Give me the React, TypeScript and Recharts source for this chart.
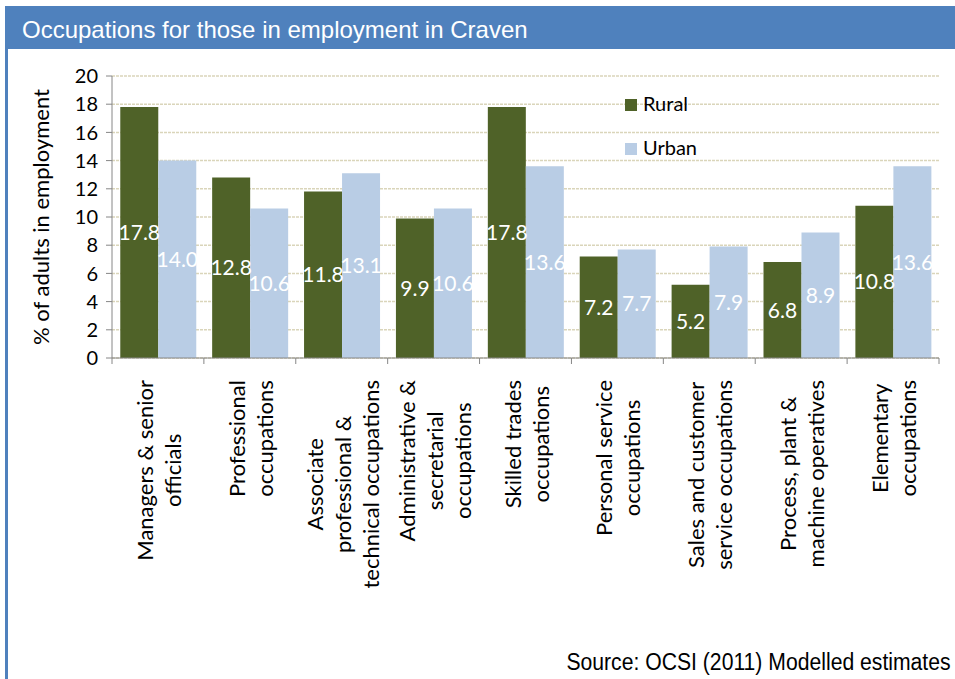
import React from 'react';
import { Bar, BarChart, CartesianGrid, LabelList, Legend, XAxis, YAxis } from 'recharts';

const categories = [
  'Managers & senior\nofficials',
  'Professional\noccupations',
  'Associate\nprofessional &\ntechnical occupations',
  'Administrative &\nsecretarial\noccupations',
  'Skilled trades\noccupations',
  'Personal service\noccupations',
  'Sales and customer\nservice occupations',
  'Process, plant &\nmachine operatives',
  'Elementary\noccupations',
];

const ruralValues = [17.8, 12.8, 11.8, 9.9, 17.8, 7.2, 5.2, 6.8, 10.8];
const urbanValues = [14.0, 10.6, 13.1, 10.6, 13.6, 7.7, 7.9, 8.9, 13.6];
const yTicks = [0, 2, 4, 6, 8, 10, 12, 14, 16, 18, 20];

const chartData = categories.map((name, i) => ({ name, rural: ruralValues[i], urban: urbanValues[i] }));

const RURAL = '#4F6228';
const URBAN = '#B9CDE5';
const AXIS = '#868686';
const BODY_FONT = 'Lato, "Noto Sans", sans-serif';
const CAT_FONT_SIZE = 22;
const LINE_GAP = 28;

let measureCtx: CanvasRenderingContext2D | null = null;
const measure = (text: string) => {
  if (!measureCtx) measureCtx = document.createElement('canvas').getContext('2d');
  if (!measureCtx) return text.length * 10;
  measureCtx.font = `${CAT_FONT_SIZE}px Lato`;
  return measureCtx.measureText(text).width;
};

const CategoryTick = (props: any) => {
  const { x, y, payload, index } = props;
  const half = payload?.offset ?? 45.9;
  const axisY = y - 8;
  const lines: string[] = String(payload.value).split('\n');
  const widest = Math.max(...lines.map(measure));
  const cy = axisY + 22 + widest / 2;
  return (
    <g>
      <line x1={x - half} x2={x - half} y1={axisY} y2={axisY + 6} stroke={AXIS} />
      {index === categories.length - 1 && <line x1={x + half} x2={x + half} y1={axisY} y2={axisY + 6} stroke={AXIS} />}
      <text
        transform={`translate(${x}, ${cy}) rotate(-90)`}
        textAnchor="middle"
        dominantBaseline="central"
        fontFamily={BODY_FONT}
        fontSize={CAT_FONT_SIZE}
        fill="#000"
      >
        {lines.map((line, i) => (
          <tspan key={i} x={0} y={(i - (lines.length - 1) / 2) * LINE_GAP}>
            {line}
          </tspan>
        ))}
      </text>
    </g>
  );
};

const AxisTitle = (props: any) => {
  const vb = props.viewBox ?? { x: 0, y: 76, width: 112, height: 282 };
  const cy = vb.y + vb.height / 2;
  return (
    <text
      transform={`translate(40, ${cy}) rotate(-90)`}
      textAnchor="middle"
      dominantBaseline="central"
      fontFamily={BODY_FONT}
      fontSize={22}
      fill="#000"
    >
      % of adults in employment
    </text>
  );
};

const renderLegend = (props: any) => {
  const items = props.payload ?? [];
  return (
    <div style={{ fontFamily: BODY_FONT, fontSize: 20, color: '#000' }}>
      {items.map((item: any) => (
        <div key={item.value} style={{ display: 'flex', alignItems: 'center', height: 44 }}>
          <span style={{ width: 12, height: 12, background: item.color, marginRight: 6, marginTop: 3 }} />
          <span>{item.value}</span>
        </div>
      ))}
    </div>
  );
};

export default function App() {
  return (
    <div style={{ position: 'absolute', left: 0, top: 0, width: 955, height: 679, background: '#fff', overflow: 'hidden' }}>
      <div
        style={{
          position: 'absolute',
          left: 5,
          top: 6,
          width: 950,
          height: 43,
          background: '#4F81BD',
          color: '#fff',
          fontFamily: '"Liberation Sans", Arial, sans-serif',
          fontSize: 24,
          lineHeight: '28px',
          paddingLeft: 17,
          paddingTop: 10,
          boxSizing: 'border-box',
          whiteSpace: 'nowrap',
        }}
      >
        Occupations for those in employment in Craven
      </div>
      <div style={{ position: 'absolute', left: 5, top: 49, width: 3, height: 630, background: '#4F81BD' }} />
      <div style={{ position: 'absolute', left: 0, top: 0 }}>
        <BarChart
          width={955}
          height={679}
          data={chartData}
          margin={{ top: 76, right: 16, bottom: 0, left: 0 }}
          barCategoryGap="9%"
          barGap={0}
        >
          <CartesianGrid vertical={false} stroke="#DAD5BA" strokeDasharray="3 1" strokeWidth={1.5} />
          <XAxis
            dataKey="name"
            interval={0}
            height={321}
            tickLine={false}
            tickSize={6}
            tickMargin={2}
            axisLine={{ stroke: AXIS }}
            tick={<CategoryTick />}
          />
          <YAxis
            width={112}
            domain={[0, 20]}
            ticks={yTicks}
            interval={0}
            tickSize={6}
            tickMargin={8}
            axisLine={{ stroke: AXIS }}
            tickLine={{ stroke: AXIS }}
            tick={{ fill: '#000', fontSize: 20, fontFamily: BODY_FONT }}
            label={<AxisTitle />}
          />
          <Legend
            layout="vertical"
            verticalAlign="middle"
            align="center"
            wrapperStyle={{ left: 625, top: 81, width: 120 }}
            content={renderLegend}
          />
          <Bar dataKey="rural" name="Rural" fill={RURAL} isAnimationActive={false}>
            <LabelList
              dataKey="rural"
              position="center"
              fill="#fff"
              fontSize={21}
              fontFamily={BODY_FONT}
              formatter={(v: any) => Number(v).toFixed(1)}
            />
          </Bar>
          <Bar dataKey="urban" name="Urban" fill={URBAN} isAnimationActive={false}>
            <LabelList
              dataKey="urban"
              position="center"
              fill="#fff"
              fontSize={21}
              fontFamily={BODY_FONT}
              formatter={(v: any) => Number(v).toFixed(1)}
            />
          </Bar>
        </BarChart>
      </div>
      <div
        style={{
          position: 'absolute',
          right: 4,
          top: 648,
          fontFamily: '"Liberation Sans", Arial, sans-serif',
          fontSize: 23,
          lineHeight: '28px',
          color: '#000',
          whiteSpace: 'nowrap',
          transform: 'scaleX(0.92)',
          transformOrigin: 'right center',
        }}
      >
        Source: OCSI (2011) Modelled estimates
      </div>
    </div>
  );
}
